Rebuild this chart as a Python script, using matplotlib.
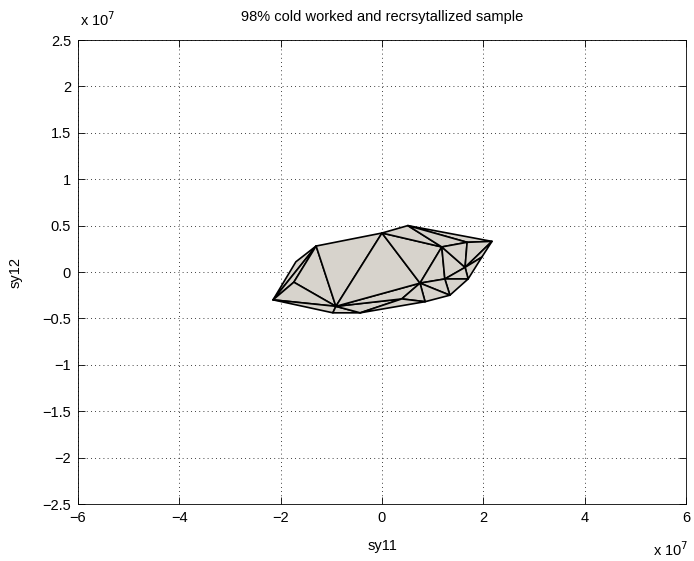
import matplotlib.pyplot as plt

plt.rcParams['font.family'] = ['Liberation Sans', 'DejaVu Sans']

# hull vertices of the yield locus projection (units of 1e7)
names = ['A', 'K', 'B', 'C', 'D', 'E', 'T', 'P', 'O', 'R', 'J', 'I',
         'L', 'H', 'F', 'G', 'M', 'N', 'Q', 'S']
sy11 = [-2.15, -1.70, -1.30, 0.00, 0.51, 2.17, 1.97, 1.70, 1.34, 0.85, -0.43, -0.97,
        -1.74, -0.91, 1.18, 1.68, 0.75, 1.24, 1.64, 0.39]
sy12 = [-0.30, 0.11, 0.28, 0.42, 0.50, 0.33, 0.16, -0.075, -0.25, -0.32, -0.44, -0.44,
        -0.11, -0.37, 0.27, 0.32, -0.12, -0.075, 0.05, -0.29]

faces = ['AKB', 'ABL', 'LBH', 'ALH', 'AHI', 'HIJ', 'HJS', 'HSM', 'BCH', 'CMH',
         'CFM', 'CDF', 'DGE', 'DFG', 'FNM', 'FQN', 'FGQ', 'GEQ', 'ETQ', 'TPQ',
         'QPN', 'NPO', 'MNO', 'MOR', 'SMR', 'JRS']

xticks = [-6, -4, -2, 0, 2, 4, 6]
yticks = [-2.5, -2, -1.5, -1, -0.5, 0, 0.5, 1, 1.5, 2, 2.5]

fig = plt.figure(figsize=(6.94, 5.61), dpi=100)
ax = fig.add_axes([78 / 694, 1 - 504 / 561, 608 / 694, 464 / 561])

idx = {n: i for i, n in enumerate(names)}
for f in faces:
    xs = [sy11[idx[c]] for c in f]
    ys = [sy12[idx[c]] for c in f]
    ax.fill(xs, ys, facecolor='#d7d3cc', edgecolor='black', linewidth=1.2,
            joinstyle='round', zorder=3)


def lab(v):
    return f'{v:g}'.replace('-', '\u2212')


ax.set_xlim(-6, 6)
ax.set_ylim(-2.5, 2.5)
ax.set_xticks(xticks)
ax.set_yticks(yticks)
ax.set_xticklabels([lab(v) for v in xticks])
ax.set_yticklabels([lab(v) for v in yticks])
ax.tick_params(direction='in', top=True, right=True, length=5, width=0.6,
               labelsize=10.5, pad=5)
for s in ax.spines.values():
    s.set_linewidth(0.6)
ax.grid(True, color='black', linestyle=(0, (1, 4)), linewidth=0.6)
ax.set_axisbelow(True)

ax.set_title('98% cold worked and recrsytallized sample', fontsize=10.5, pad=14)
ax.set_xlabel('sy11', fontsize=10.5, labelpad=10)
ax.set_ylabel('sy12', fontsize=10.5, labelpad=14)

fig.text(80 / 694, 1 - 26 / 561, r'x 10$^{7}$', fontsize=10.5, ha='left', va='baseline')
fig.text(688 / 694, 1 - 556 / 561, r'x 10$^{7}$', fontsize=10.5, ha='right', va='baseline')

fig.savefig('out.png', dpi=100)
